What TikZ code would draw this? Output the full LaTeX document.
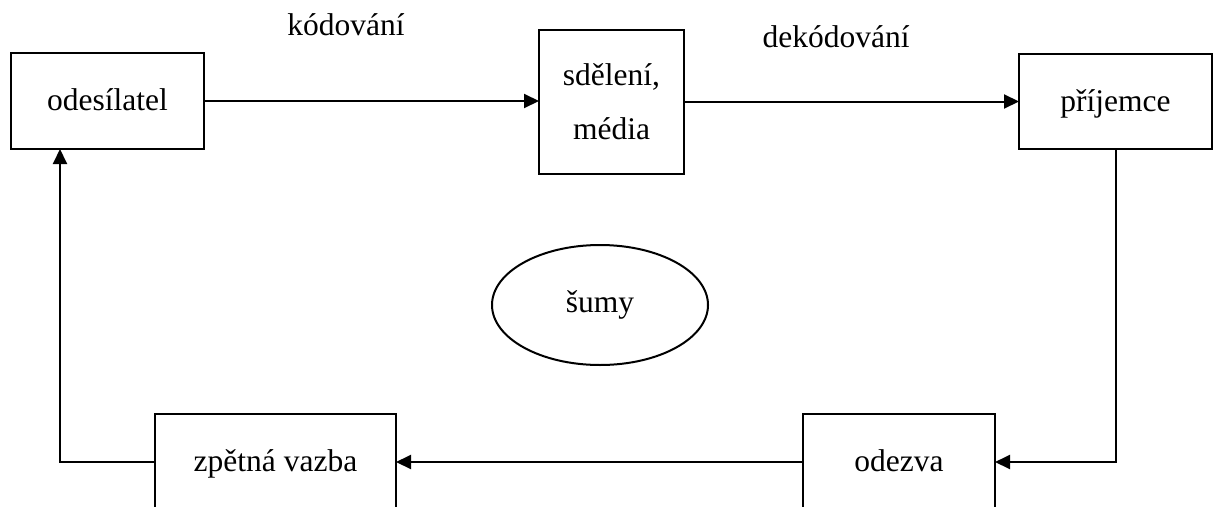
\documentclass[tikz,border=0pt]{standalone}
\usepackage{fontspec}
\setmainfont{Liberation Serif}
\usetikzlibrary{arrows.meta,shapes.geometric}
\tikzset{
  boxnode/.style={draw, line width=2.4pt, inner sep=0pt, outer sep=0pt, text height=24pt, text depth=5pt, align=center},
  conn/.style={line width=2pt, -{Triangle[length=15pt,width=14pt]}},
  plain/.style={line width=2pt},
  lbl/.style={inner sep=0pt, anchor=base}
}
\begin{document}
\begin{tikzpicture}[x=1pt,y=-1pt, font=\fontsize{31.5}{54}\selectfont]
\useasboundingbox (0,0) rectangle (1214,506);
\clip (0,0) rectangle (1214,506);
\node[boxnode, minimum width=193pt, minimum height=96pt] (ode) at (107.5,101) {odesílatel};
\node[draw, line width=2.4pt, inner sep=0pt, outer sep=0pt, align=center, minimum width=145pt, minimum height=144pt] (sde) at (611.5,102) {sdělení,\\média};
\node[boxnode, minimum width=193pt, minimum height=95pt] (pri) at (1115.5,101.5) {příjemce};
\node[boxnode, minimum width=241pt, minimum height=96pt] (zpe) at (275.5,462) {zpětná vazba};
\node[boxnode, minimum width=192pt, minimum height=96pt] (odz) at (899,462) {odezva};
\node[draw, ellipse, line width=2pt, inner sep=0pt, minimum width=216pt, minimum height=120pt] (sum) at (600,305) {šumy};
\node[lbl] (kod) at (346,35) {kódování};
\node[lbl] (dek) at (836,47) {dekódování};
\coordinate (lft) at ([xshift=49pt]ode.south west);
\draw[conn] (ode.east) -- (sde.west |- ode.east);
\draw[conn] (sde.east |- pri.west) -- (pri.west);
\draw[conn] (pri.south) |- (odz.east);
\draw[conn] (odz.west) -- (zpe.east);
\draw[conn] (zpe.west) -| (lft);
\end{tikzpicture}
\end{document}
